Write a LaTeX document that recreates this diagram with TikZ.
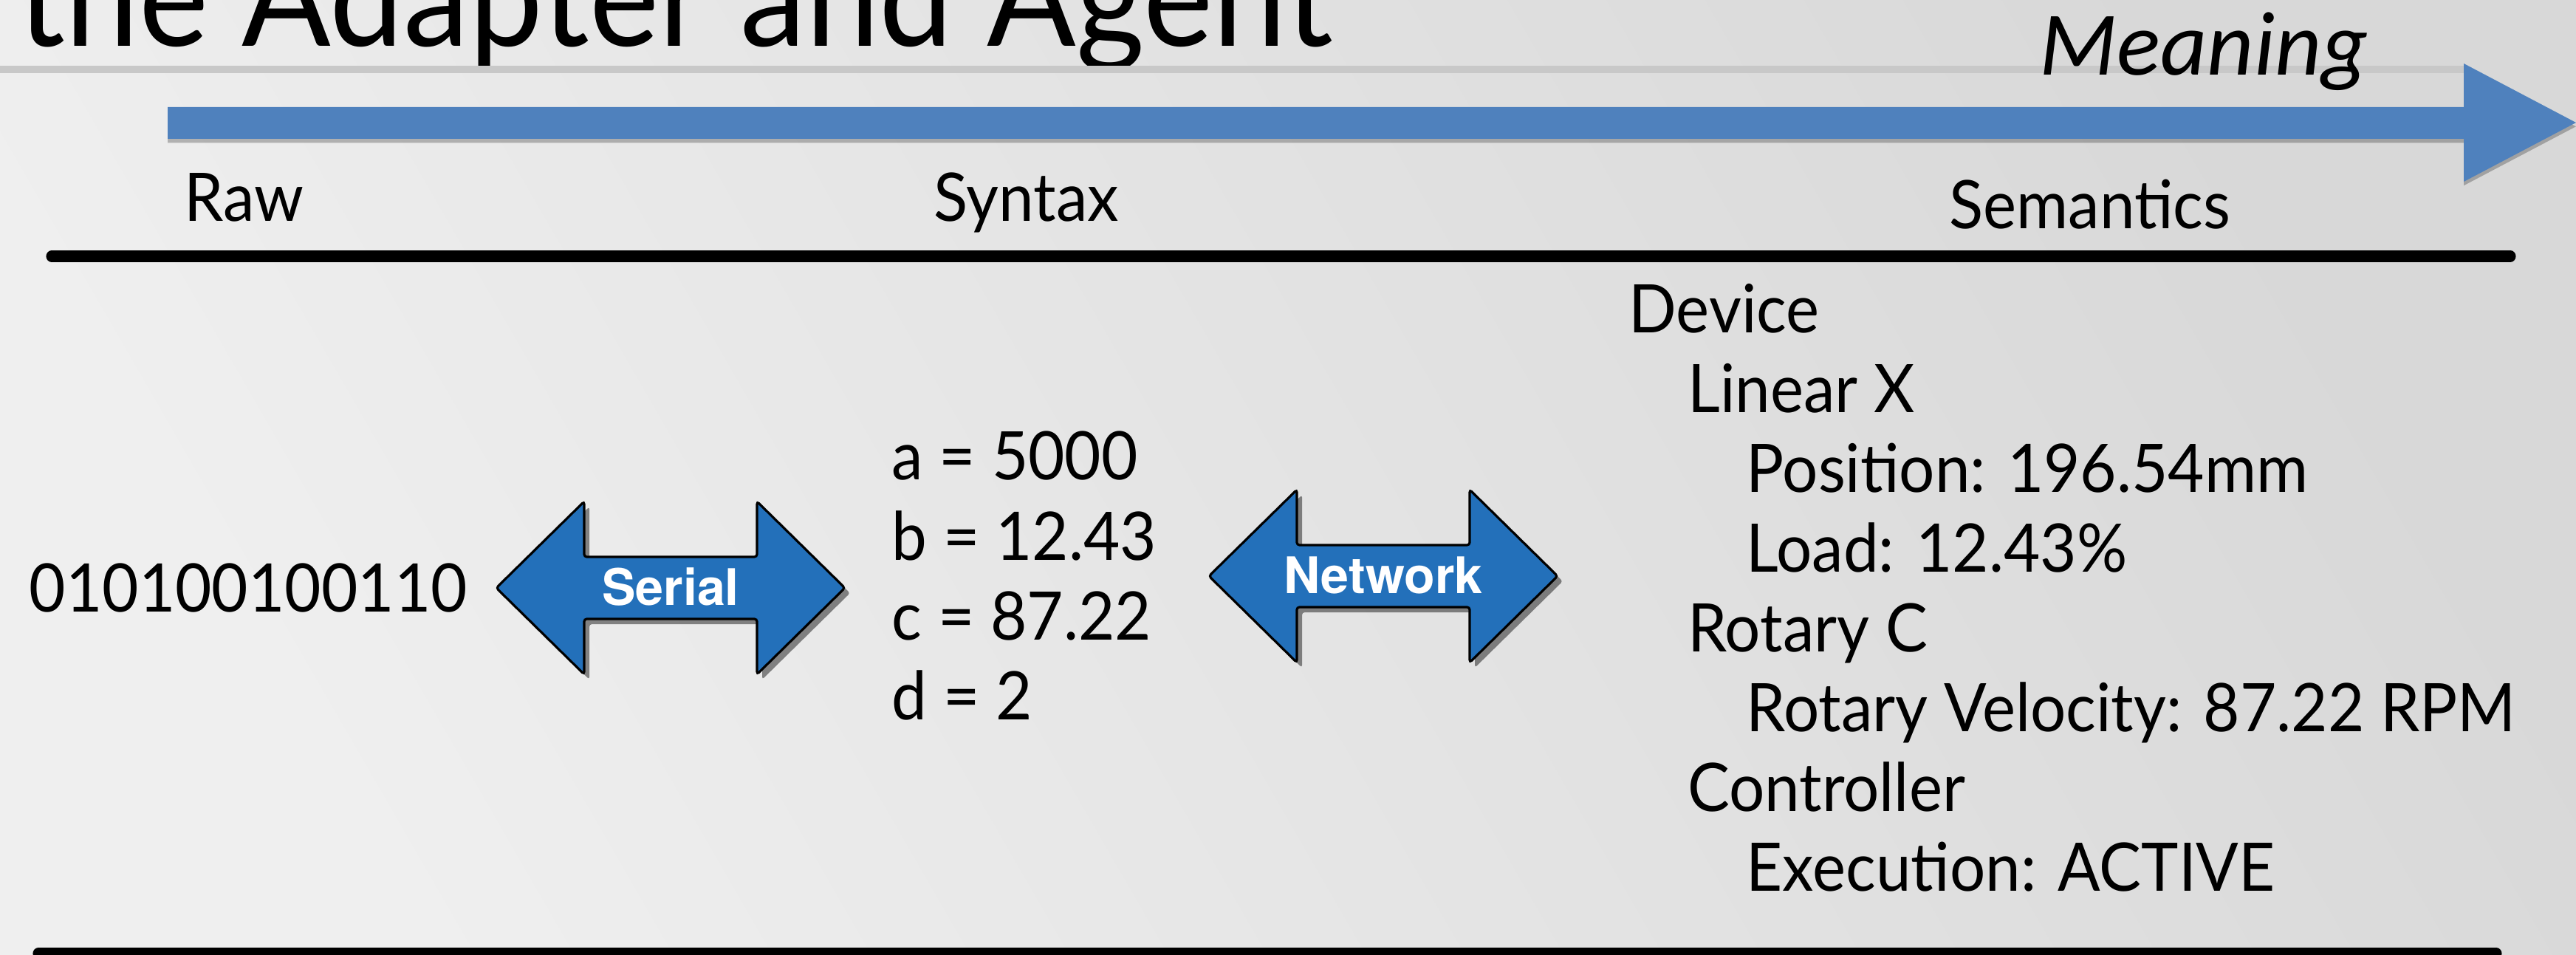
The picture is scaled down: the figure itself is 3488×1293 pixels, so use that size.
\documentclass[tikz,border=0pt]{standalone}
\usepackage{fontspec}
\setmainfont{Lato}[FakeStretch=0.94]
\newfontfamily\meaningfont{Carlito}
\newfontfamily\arrowfont{TeX Gyre Heros}
\usepackage{tikz}
\usetikzlibrary{shadows, calc}
\definecolor{bgdark}{HTML}{D8D8D8}
\definecolor{bglight}{HTML}{EFEFEF}
\definecolor{bandgrey}{HTML}{C8C8C8}
\definecolor{meaningblue}{HTML}{4F81BD}
\definecolor{swapblue}{HTML}{2370BA}

\begin{document}
\begin{tikzpicture}[x=0.1mm, y=-0.1mm,
    body/.style={font=\fontsize{25.8}{30}\selectfont, anchor=base west, inner sep=0pt},
    rule/.style={line width=4.3pt, line cap=round},
    swaparrow/.style={fill=swapblue, draw=black, line width=0.9pt, rounded corners=1pt,
      drop shadow={shadow xshift=2pt, shadow yshift=-2pt, fill=black, opacity=0.45}},
    swaplabel/.style={font=\arrowfont\bfseries\fontsize{19.4}{22}\selectfont, text=white, inner sep=0pt}]
  \useasboundingbox (0,0) rectangle (3488,1293);
  \shade[shading=axis, top color=bgdark, bottom color=bglight, shading angle=-60] (0,0) rectangle (3488,1293);

  % slide title and its underline
  \node[body, font=\fontsize{54}{60}\selectfont] (title) at (24,63) {the Adapter and Agent};
  \fill[bandgrey] (0,89) rectangle (3336,99);

  % meaning axis
  \fill[meaningblue, drop shadow={shadow xshift=0pt, shadow yshift=-1.5pt, fill=black, opacity=0.25}]
    (227,145) -- (3336,145) -- (3336,86) -- (3488,166) -- (3336,246) -- (3336,188) -- (227,188) -- cycle;
  \node[anchor=base west, inner sep=0pt, font=\meaningfont\itshape\fontsize{35}{40}\selectfont] (meaning) at (2761,102) {Meaning};

  % column heads
  \node[body] (raw) at (249,300) {Raw};
  \node[body] (syntax) at (1264,300) {Syntax};
  \node[body] (semantics) at (2639,310) {Semantics};
  \draw[rule] (70,347) -- (3399,347);
  \draw[rule] (52,1291) -- (3380,1291);

  % raw bits
  \node[body] (bits) at (39,829) {010100100110};

  % parsed values
  \foreach \v [count=\i] in {a = 5000, b = 12.43, c = 87.22, d = 2}
    \node[body] (syn\i) at (1207,{650+(\i-1)*108.3}) {\v};

  % device tree
  \foreach \ind/\txt [count=\i] in {0/Device, 1/Linear X, 2/Position: 196.54mm, 2/Load: 12.43\%,
      1/Rotary C, 2/Rotary Velocity: 87.22 RPM, 1/Controller, 2/Execution: ACTIVE}
    \node[body] (sem\i) at ({2205+\ind*79.5},{451+(\i-1)*108}) {\txt};

  % transport arrows
  \foreach \name/\cx/\cy/\lbl in {serial/908/796/Serial, network/1873/780/Network}{
    \draw[swaparrow] (\cx-236,\cy) -- ++(119,-117) -- ++(0,75) -- ++(234,0) -- ++(0,-75)
      -- ++(119,117) -- ++(-119,117) -- ++(0,-75) -- ++(-234,0) -- ++(0,75) -- cycle;
    \node[swaplabel, anchor=base] (\name) at (\cx,\cy+24) {\lbl};
  }
\end{tikzpicture}
\end{document}
